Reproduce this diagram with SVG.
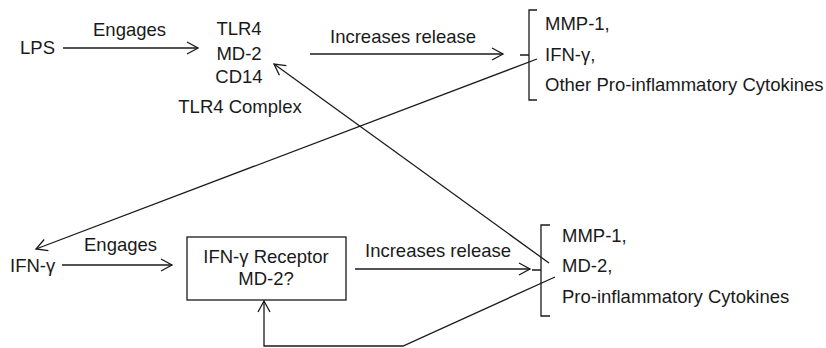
<svg xmlns="http://www.w3.org/2000/svg" width="826" height="348" viewBox="0 0 826 348">
  <defs>
    <style>
      text { font-family: "Liberation Sans", Arial, sans-serif; font-size: 18.5px; fill: #1a1a1a; }
      .mid { text-anchor: middle; }
      .line { fill: none; stroke: #1a1a1a; stroke-width: 1.3; }
      .arrow { fill: none; stroke: #1a1a1a; stroke-width: 1.3; marker-end: url(#chev); }
    </style>
    <marker id="chev" markerUnits="userSpaceOnUse" markerWidth="14" markerHeight="14" viewBox="0 0 14 14" refX="12" refY="7" orient="auto">
      <path d="M1,1 L12,7 L1,13" fill="none" stroke="#1a1a1a" stroke-width="1.3"/>
    </marker>
  </defs>

  <!-- Top pathway -->
  <g id="lps">
    <text x="20" y="54">LPS</text>
  </g>
  <g id="tlr4-complex">
    <text class="mid" x="239" y="34.5">TLR4</text>
    <text class="mid" x="239" y="60">MD-2</text>
    <text class="mid" x="239" y="83">CD14</text>
    <text class="mid" x="240" y="112.5">TLR4 Complex</text>
  </g>
  <g id="top-products">
    <path class="line" d="M537,10 L529,10 L529,100 L537,100 M520,55 L529,55"/>
    <text x="545" y="30">MMP-1,</text>
    <text x="545" y="61">IFN-γ,</text>
    <text x="545" y="91">Other Pro-inflammatory Cytokines</text>
  </g>

  <!-- Bottom pathway -->
  <g id="ifng">
    <text x="10" y="272">IFN-γ</text>
  </g>
  <g id="ifng-receptor">
    <rect x="187" y="237" width="159" height="63" fill="none" stroke="#1a1a1a" stroke-width="1.3"/>
    <text class="mid" x="266" y="263">IFN-γ Receptor</text>
    <text class="mid" x="266" y="285">MD-2?</text>
  </g>
  <g id="bottom-products">
    <path class="line" d="M550,225 L541,225 L541,316 L550,316 M532,270 L541,270"/>
    <text x="562" y="242">MMP-1,</text>
    <text x="562" y="272">MD-2,</text>
    <text x="562" y="303">Pro-inflammatory Cytokines</text>
  </g>

  <!-- Connectors -->
  <g id="connectors">
    <path class="arrow" d="M63,48 L198,48"/>
    <text x="93" y="35.5">Engages</text>
    <path class="arrow" d="M310,54 L503,54"/>
    <text x="330" y="43">Increases release</text>

    <path class="arrow" d="M62,265 L172,265"/>
    <text x="84" y="251">Engages</text>
    <path class="arrow" d="M355,269 L530,269"/>
    <text x="365" y="257">Increases release</text>

    <!-- IFN-γ released by TLR4 signalling feeds the lower pathway -->
    <path class="arrow" d="M537,59 L36,249"/>
    <!-- MD-2 released by the lower pathway feeds the TLR4 complex -->
    <path class="arrow" d="M549,263 L274,64"/>
    <!-- Autocrine loop back to the receptor -->
    <path class="arrow" d="M555,277 L403,346 L264,346 L264,301"/>
  </g>
</svg>
